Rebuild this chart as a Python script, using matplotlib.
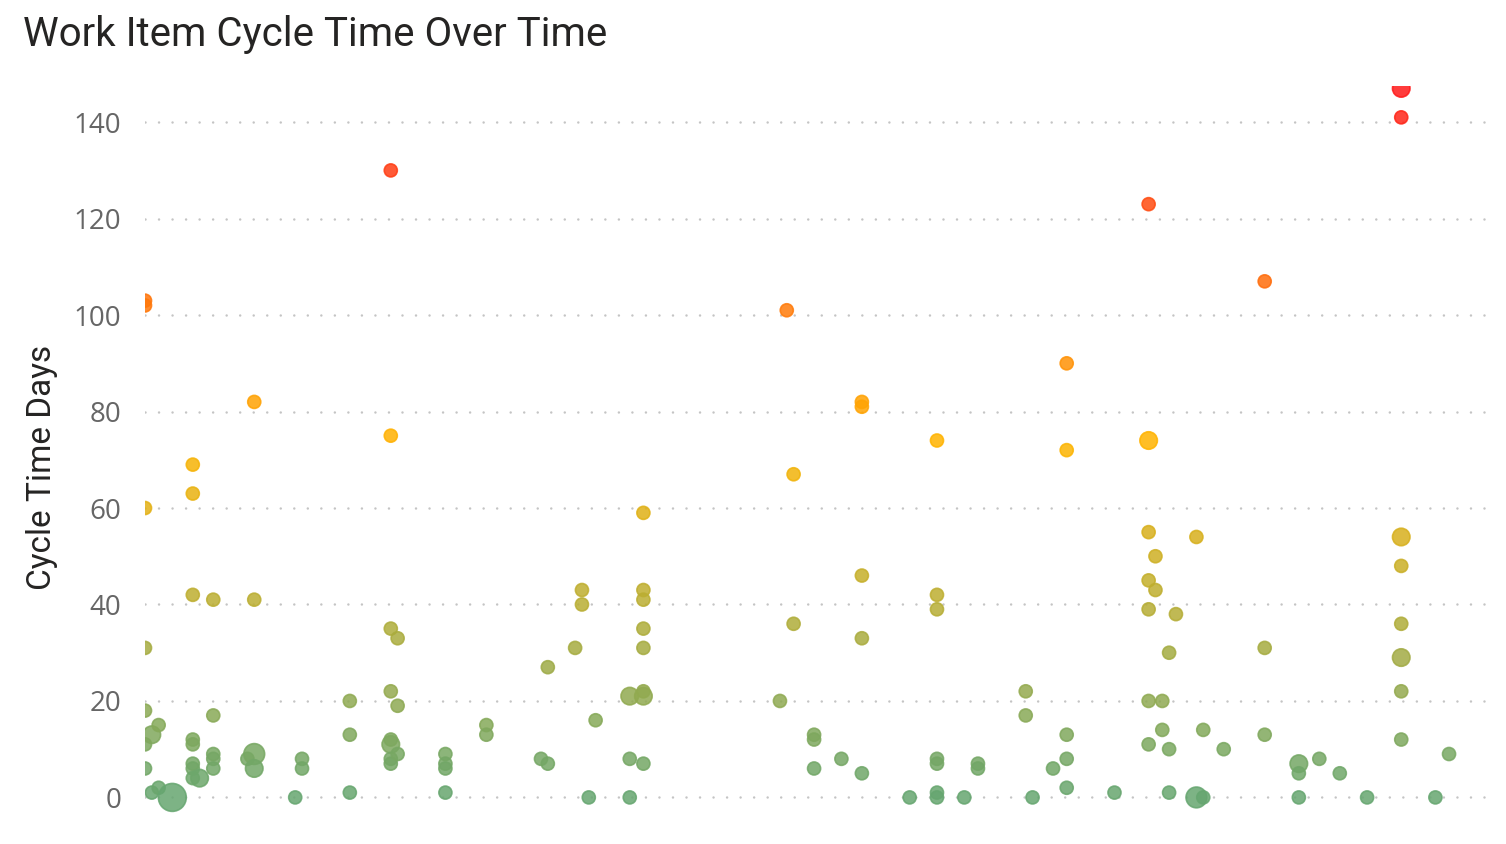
import numpy as np
import pandas as pd
import matplotlib
matplotlib.use("Agg")
import matplotlib.pyplot as plt
from matplotlib.colors import LinearSegmentedColormap, Normalize

# day offset of completion, cycle time in days, number of items at that point
day = [0, 0, 0, 0, 0, 0, 0,
       1, 1, 2, 2, 4,
       7, 7, 7, 7, 7, 7, 7, 7, 8,
       10, 10, 10, 10, 10, 15, 16, 16, 16, 16,
       22, 23, 23, 30, 30, 30,
       36, 36, 36, 36, 36, 36, 36, 36, 37, 37, 37,
       44, 44, 44, 44, 50, 50, 58, 59, 59, 63, 64, 64, 65, 66,
       71, 71, 71, 73, 73, 73, 73, 73, 73, 73, 73,
       93, 94, 95, 95, 98, 98, 98, 102, 105, 105, 105, 105, 105,
       112, 116, 116, 116, 116, 116, 116, 116, 120, 122, 122,
       129, 129, 130, 133, 135, 135, 135, 135, 135, 142,
       147, 147, 147, 147, 147, 147, 147, 148, 148, 149, 149,
       150, 150, 150, 151, 154, 154, 155, 155, 158,
       164, 164, 164, 169, 169, 169, 172, 175, 179,
       184, 184, 184, 184, 184, 184, 184, 184, 189, 191]
cycle_days = [103, 102, 60, 31, 18, 11, 6,
              13, 1, 15, 2, 0,
              69, 63, 42, 12, 11, 7, 6, 4, 4,
              41, 17, 9, 8, 6, 8, 82, 41, 9, 6,
              0, 8, 6, 20, 13, 1,
              130, 75, 35, 22, 12, 11, 8, 7, 33, 19, 9,
              9, 7, 6, 1, 15, 13, 8, 27, 7, 31, 43, 40, 0, 16,
              21, 8, 0, 59, 43, 41, 35, 31, 22, 21, 7,
              20, 101, 67, 36, 13, 12, 6, 8, 82, 81, 46, 33, 5,
              0, 74, 42, 39, 8, 7, 1, 0, 0, 7, 6,
              22, 17, 0, 6, 90, 72, 13, 8, 2, 1,
              123, 74, 55, 45, 39, 20, 11, 50, 43, 20, 14,
              30, 10, 1, 38, 54, 0, 14, 0, 10,
              107, 31, 13, 7, 5, 0, 8, 5, 0,
              147, 141, 54, 48, 36, 29, 22, 12, 0, 9]
item_count = [1, 1, 1, 1, 1, 1, 1,
              2, 1, 1, 1, 6,
              1, 1, 1, 1, 1, 1, 1, 1, 2,
              1, 1, 1, 1, 1, 1, 1, 1, 3, 2,
              1, 1, 1, 1, 1, 1,
              1, 1, 1, 1, 1, 2, 1, 1, 1, 1, 1,
              1, 1, 1, 1, 1, 1, 1, 1, 1, 1, 1, 1, 1, 1,
              2, 1, 1, 1, 1, 1, 1, 1, 1, 2, 1,
              1, 1, 1, 1, 1, 1, 1, 1, 1, 1, 1, 1, 1,
              1, 1, 1, 1, 1, 1, 1, 1, 1, 1, 1,
              1, 1, 1, 1, 1, 1, 1, 1, 1, 1,
              1, 2, 1, 1, 1, 1, 1, 1, 1, 1, 1,
              1, 1, 1, 1, 1, 3, 1, 1, 1,
              1, 1, 1, 2, 1, 1, 1, 1, 1,
              2, 1, 2, 1, 1, 2, 1, 1, 1, 1]
y_ticks = [0, 20, 40, 60, 80, 100, 120, 140]

df = pd.DataFrame({"day": day, "cycle": cycle_days, "count": item_count})

W, H = 1506, 844
fig = plt.figure(figsize=(W / 100, H / 100), dpi=100)
ax = fig.add_axes([145 / W, 8 / H, (1490 - 145) / W, (836 - 86) / H])

cmap = LinearSegmentedColormap.from_list("rag", ["#66a670", "#ffb400", "#ff1a1a"])
norm = Normalize(vmin=df["cycle"].min(), vmax=df["cycle"].max())
colors = cmap(norm(df["cycle"]))

ax.scatter(df["day"], df["cycle"], s=88 * df["count"] ** 0.85, c=colors,
           alpha=0.85, edgecolors=colors, linewidths=1.2, zorder=3)

ax.set_xlim(0, 197)
ax.set_ylim(-8, 147.5)
ax.set_yticks(y_ticks)
ax.set_xticks([])
ax.grid(axis="y", color="#c4c4c4", linestyle=(0, (0.01, 5.4)), linewidth=1.8,
        dash_capstyle="round")
ax.set_axisbelow(True)
for s in ax.spines.values():
    s.set_visible(False)
ax.tick_params(axis="y", length=0, pad=17, labelsize=20, labelcolor="#666666")
for lab in ax.get_yticklabels():
    lab.set_fontfamily(["Open Sans", "DejaVu Sans"])

fig.text(42 / W, (844 - 467) / H, "Cycle Time Days", rotation=90, ha="center",
         va="center", fontsize=24, color="#252423", family=["Roboto", "DejaVu Sans"])
fig.text(23 / W, 1 - 15 / H, "Work Item Cycle Time Over Time", ha="left",
         va="top", fontsize=29, color="#252423", family=["Roboto", "DejaVu Sans"])

fig.savefig("out.png", dpi=100)
